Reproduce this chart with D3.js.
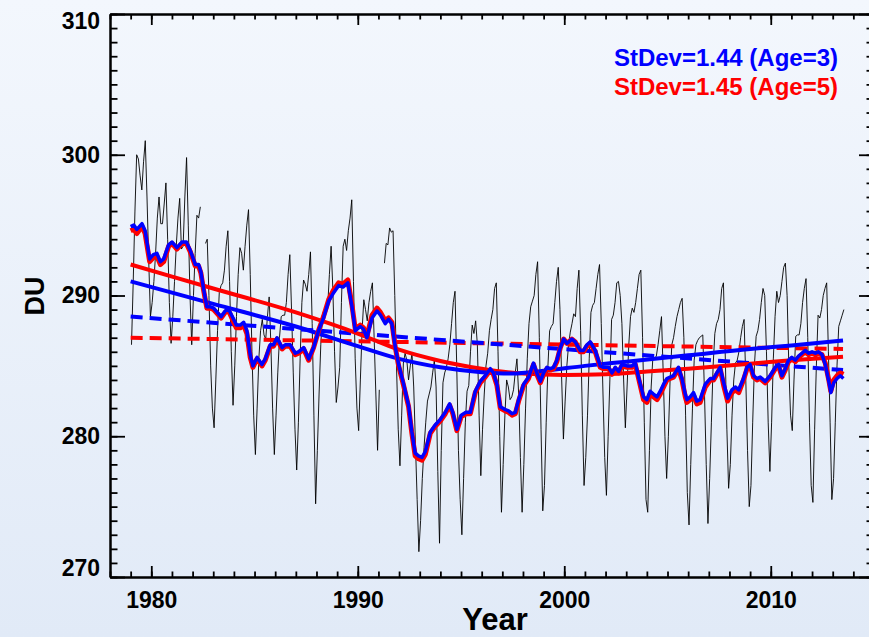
<!DOCTYPE html>
<html>
<head>
<meta charset="utf-8">
<script src="https://d3js.org/d3.v7.min.js"></script>
<style>
  body { margin: 0; background: #eef3fb; }
  svg { display: block; font-family: "Liberation Sans", Arial, Helvetica, sans-serif; font-weight: bold; }
</style>
</head>
<body>
<svg id="chart" width="869" height="637"></svg>
<script>
// monthly total ozone (DU), Jan 1979 .. Jul 2013, null = missing month
var firstYear = 1979;
var monthlyDU = [
  286.5, 291.0, 296.0, 300.0, 299.7, 298.5, 297.5, 299.5, 301.0, 297.0, 292.5, 288.5,
  289.5, 291.0, 293.0, 295.5, 297.0, 295.1, 295.1, 296.5, 298.0, 294.0, 289.5, 286.6,
  288.5, 291.0, 293.5, 295.5, 296.9, 293.3, 293.5, 297.0, 299.8, 295.0, 290.0, 286.5,
  290.0, 293.0, 295.7, 295.5, 296.3, null, null, 293.7, 294.0, 290.0, 285.0, 282.0,
  280.6, 284.0, 287.5, 290.2, 290.7, 290.9, 291.8, 293.5, 294.6, 291.0, 286.0, 282.2,
  285.0, 288.5, 291.5, 293.4, 293.0, 291.8, 293.5, 295.0, 296.1, 291.5, 286.0, 281.5,
  278.7, 282.0, 285.5, 287.5, 288.3, 287.2, 286.9, 288.5, 289.9, 286.5, 282.0, 278.7,
  281.5, 284.5, 287.0, 288.5, 288.6, 288.6, 289.5, 291.5, 292.9, 289.0, 284.5, 280.5,
  277.6, 281.0, 285.5, 289.5, 291.1, 290.8, 290.3, 291.5, 293.1, 288.0, 281.5, 275.2,
  279.0, 283.0, 286.5, 288.7, 289.0, 289.1, 289.2, 291.5, 293.5, 290.5, 286.0, 282.4,
  283.5, 284.9, 289.5, 293.5, 294.0, 293.2, 294.6, 295.5, 296.8, 291.0, 285.5, 282.0,
  280.4, 284.0, 287.5, 289.7, 289.0, 288.2, 289.5, 290.3, 290.9, 287.0, 283.0, 279.0,
  283.3, null, null, 292.3, 293.7, 293.6, 294.8, 294.5, 294.6, 290.0, 285.0, 280.5,
  277.9, 281.5, 285.2, 285.9, 285.4, 284.0, 285.0, 285.9, 283.5, 279.5, 275.5, 271.8,
  274.0, 277.0, 279.2, 281.0, 282.5, 283.0, 283.5, 284.5, 285.4, 283.5, 277.5, 272.4,
  279.0, 283.8, 284.5, 284.9, 285.5, 286.5, 288.0, 289.5, 290.3, 285.0, 279.0, 275.5,
  273.0, 277.0, 281.0, 283.2, 283.6, 286.0, 287.9, 287.3, 288.2, 286.5, 281.5, 277.2,
  280.5, 283.0, 285.0, 285.9, 287.5, 288.3, 289.0, 290.5, 290.9, 286.0, 280.0, 274.6,
  278.0, 281.5, 284.0, 283.5, 282.6, 282.8, 283.3, 284.5, 285.5, 283.0, 278.5, 274.6,
  278.0, 282.0, 285.5, 288.0, 289.2, 289.6, 290.0, 291.5, 292.4, 287.0, 280.5, 274.7,
  276.5, 281.0, 285.0, 287.5, 287.8, 288.0, 289.5, 291.0, 292.0, 289.0, 284.0, 279.8,
  282.5, 285.0, 286.5, 287.4, 288.0, 288.7, 288.5, 290.5, 291.8, 287.5, 281.5, 276.5,
  278.5, 281.5, 285.5, 288.8, 289.3, 289.5, 290.5, 291.5, 292.2, 288.0, 283.0, 278.5,
  275.8, 280.0, 284.0, 288.3, 288.6, 289.5, 290.9, 291.0, 290.0, 288.0, 284.0, 280.6,
  283.5, 286.5, 288.5, 289.1, 288.8, 289.5, 290.5, 291.5, 291.8, 287.0, 281.0, 275.5,
  274.6, 279.0, 283.5, 285.6, 285.5, 285.7, 286.5, 287.5, 288.5, 284.5, 280.0, 277.0,
  280.0, 284.0, 286.5, 287.0, 287.8, 288.5, 289.0, 289.5, 289.8, 287.0, 281.5, 276.0,
  273.7, 278.0, 282.0, 285.4, 286.5, 286.8, 287.0, 287.1, 287.2, 283.0, 278.0, 273.8,
  277.0, 281.0, 285.0, 287.3, 288.0, 288.3, 289.0, 290.5, 290.9, 286.0, 280.5, 276.3,
  278.0, 281.5, 284.0, 285.2, 285.4, 286.0, 287.0, 287.8, 288.3, 284.0, 279.0, 275.0,
  276.5, 281.0, 285.0, 287.1, 287.5, 288.3, 289.5, 290.5, 290.0, 286.0, 281.0, 277.5,
  281.0, 285.5, 288.5, 290.3, 289.5, 290.0, 291.0, 292.0, 292.3, 290.0, 285.0, 281.5,
  280.4, 284.0, 287.1, 287.2, 287.2, 288.0, 289.5, 290.5, 291.2, 287.0, 281.0, 276.5,
  275.3, 280.5, 285.0, 288.6, 288.4, 289.0, 290.0, 290.5, 290.9, 286.0, 281.0, 275.5,
  277.0, 281.0, 285.0, 287.8, 288.2, 288.6, 289.0
];

// smoothed series
var smoothYears = [
  1979.0, 1979.15, 1979.3, 1979.55, 1979.7, 1979.92, 1980.1, 1980.27, 1980.44, 1980.6, 1980.84, 1981.0,
  1981.24, 1981.49, 1981.7, 1981.89, 1982.13, 1982.29, 1982.4, 1982.53, 1982.69, 1982.86, 1983.02, 1983.26,
  1983.38, 1983.58, 1983.75, 1983.96, 1984.12, 1984.31, 1984.47, 1984.63, 1984.79, 1984.92, 1985.12, 1985.36,
  1985.52, 1985.76, 1985.92, 1986.09, 1986.33, 1986.49, 1986.73, 1986.97, 1987.13, 1987.38, 1987.62, 1987.86,
  1988.1, 1988.34, 1988.59, 1988.83, 1989.07, 1989.28, 1989.52, 1989.72, 1989.88, 1990.12, 1990.28, 1990.44,
  1990.69, 1990.93, 1991.1, 1991.33, 1991.49, 1991.65, 1991.82, 1991.98, 1992.22, 1992.46, 1992.62, 1992.78,
  1992.94, 1993.11, 1993.27, 1993.51, 1993.75, 1994.0, 1994.24, 1994.45, 1994.6, 1994.8, 1995.01, 1995.24,
  1995.45, 1995.69, 1995.93, 1996.17, 1996.42, 1996.57, 1996.74, 1996.9, 1997.14, 1997.3, 1997.47, 1997.63,
  1997.79, 1998.03, 1998.27, 1998.51, 1998.67, 1998.84, 1999.0, 1999.16, 1999.32, 1999.48, 1999.64, 1999.81,
  1999.97, 2000.13, 2000.37, 2000.53, 2000.77, 2000.93, 2001.1, 2001.26, 2001.5, 2001.74, 2001.9, 2002.15,
  2002.31, 2002.47, 2002.63, 2002.79, 2003.04, 2003.28, 2003.44, 2003.6, 2003.84, 2004.0, 2004.16, 2004.32,
  2004.49, 2004.65, 2004.81, 2004.97, 2005.13, 2005.29, 2005.53, 2005.7, 2005.86, 2005.94, 2006.1, 2006.26,
  2006.42, 2006.58, 2006.83, 2007.07, 2007.23, 2007.39, 2007.55, 2007.72, 2007.91, 2008.12, 2008.28, 2008.45,
  2008.68, 2008.85, 2009.0, 2009.17, 2009.33, 2009.49, 2009.73, 2009.97, 2010.22, 2010.38, 2010.54, 2010.7,
  2010.86, 2011.02, 2011.19, 2011.35, 2011.51, 2011.67, 2011.83, 2012.0, 2012.16, 2012.31, 2012.48, 2012.64,
  2012.81, 2012.91, 2013.05, 2013.21, 2013.37, 2013.52
];
var smoothAge3 = [
  294.9, 295.0, 294.7, 295.1, 294.6, 292.6, 292.9, 293.0, 292.4, 292.6, 293.6, 293.8,
  293.4, 293.8, 293.8, 293.2, 292.2, 292.2, 291.7, 290.5, 289.2, 289.2, 289.1, 288.7,
  288.5, 288.9, 289.0, 288.4, 287.9, 287.9, 288.1, 287.5, 285.8, 285.0, 285.6, 285.1,
  285.5, 286.5, 286.5, 287.0, 286.3, 286.5, 286.5, 285.9, 286.0, 286.3, 285.5, 286.3,
  287.5, 288.4, 289.6, 290.2, 290.7, 290.6, 290.9, 289.2, 287.5, 287.8, 287.6, 287.0,
  288.4, 288.9, 288.6, 288.0, 288.3, 288.0, 286.3, 285.1, 283.7, 282.2, 280.3, 278.8,
  278.6, 278.5, 278.9, 280.3, 280.8, 281.2, 281.7, 282.3, 281.7, 280.5, 281.5, 281.7,
  281.7, 283.2, 283.9, 284.3, 284.8, 284.5, 283.7, 282.1, 281.9, 281.8, 281.6, 281.7,
  282.6, 283.7, 284.2, 285.2, 284.5, 283.9, 284.5, 284.9, 284.8, 284.9, 285.4, 286.3,
  286.9, 286.6, 286.9, 286.7, 286.1, 286.1, 286.5, 286.7, 286.1, 285.0, 284.9, 284.9,
  284.5, 284.9, 284.6, 285.1, 285.0, 285.0, 285.2, 284.2, 282.8, 282.6, 283.2, 283.0,
  282.8, 283.2, 283.7, 284.1, 284.2, 284.3, 284.9, 284.1, 283.0, 282.6, 282.8, 283.1,
  282.5, 282.6, 283.7, 284.1, 284.1, 284.5, 284.9, 283.8, 282.7, 283.3, 283.5, 283.3,
  284.1, 284.9, 285.1, 284.3, 284.1, 284.2, 283.9, 284.3, 284.9, 285.1, 284.3, 284.8,
  285.4, 285.6, 285.4, 285.7, 285.9, 286.1, 285.9, 286.0, 285.9, 286.0, 285.8, 285.1,
  283.9, 283.1, 283.8, 284.1, 284.3, 284.1
];
var smoothAge5 = [
  294.6, 294.7, 294.4, 294.9, 294.4, 292.4, 292.7, 292.8, 292.2, 292.4, 293.5, 293.7,
  293.3, 293.7, 293.7, 293.1, 292.1, 292.1, 291.6, 290.4, 289.1, 289.1, 289.0, 288.6,
  288.4, 288.8, 288.9, 288.2, 287.7, 287.7, 287.9, 287.3, 285.6, 284.9, 285.5, 285.0,
  285.4, 286.4, 286.4, 286.9, 286.2, 286.4, 286.4, 285.8, 285.9, 286.2, 285.4, 286.3,
  287.5, 288.5, 289.7, 290.4, 290.9, 290.8, 291.1, 289.3, 287.6, 287.9, 287.7, 287.1,
  288.6, 289.1, 288.8, 288.2, 288.4, 288.1, 286.3, 285.0, 283.6, 282.1, 280.2, 278.6,
  278.4, 278.3, 278.7, 280.2, 280.7, 281.1, 281.6, 282.2, 281.6, 280.4, 281.4, 281.6,
  281.6, 283.1, 283.8, 284.2, 284.7, 284.4, 283.6, 282.0, 281.8, 281.7, 281.5, 281.6,
  282.5, 283.6, 284.1, 285.1, 284.4, 283.8, 284.4, 284.8, 284.7, 284.8, 285.3, 286.3,
  286.9, 286.6, 286.9, 286.7, 286.0, 286.0, 286.4, 286.6, 286.0, 284.9, 284.8, 284.8,
  284.4, 284.8, 284.5, 285.0, 284.9, 284.9, 285.1, 284.1, 282.6, 282.4, 283.0, 282.8,
  282.6, 283.0, 283.5, 284.0, 284.1, 284.2, 284.8, 284.0, 282.8, 282.4, 282.6, 282.9,
  282.3, 282.4, 283.5, 284.0, 284.0, 284.4, 284.8, 283.6, 282.5, 283.1, 283.3, 283.1,
  284.0, 284.8, 285.0, 284.2, 284.0, 284.1, 283.8, 284.2, 284.8, 285.0, 284.2, 284.7,
  285.3, 285.5, 285.3, 285.6, 285.8, 286.0, 285.8, 285.9, 285.8, 285.9, 285.8, 285.2,
  284.0, 283.2, 284.0, 284.3, 284.5, 284.4
];

// fitted trends
var trendYears = [1979, 1983, 1987, 1990, 1992, 1994, 1996, 1997.5, 1999, 2001, 2003, 2006, 2009, 2011, 2013.5];
var trendAge3 = [291.0, 289.4, 287.8, 286.4, 285.5, 284.9, 284.55, 284.45, 284.65, 285.0, 285.3, 285.75, 286.2, 286.45, 286.8];
var trendYears5 = [1979, 1983, 1987, 1990, 1992, 1994, 1996, 1998, 2000, 2002, 2004, 2006, 2009, 2011, 2013.5];
var trendAge5 = [292.2, 290.5, 288.8, 287.3, 286.15, 285.35, 284.8, 284.45, 284.35, 284.4, 284.6, 284.8, 285.15, 285.4, 285.65];

// linear fits (dashed)
var linYears = [1979, 2013.5];
var linAge3 = [288.5, 284.7];
var linAge5 = [287.0, 286.2];

var legendLabels = ["StDev=1.44 (Age=3)", "StDev=1.45 (Age=5)"];
var xTicks = [1980, 1990, 2000, 2010];
var yTicks = [270, 280, 290, 300, 310];

var W = 869, H = 637;
var plotL = 110, plotR = 874, plotT = 14, plotB = 577;
var svg = d3.select("#chart");

var defs = svg.append("defs");
var grad = defs.append("linearGradient").attr("id", "bg")
    .attr("x1", 0).attr("y1", 0).attr("x2", 0).attr("y2", 1);
grad.append("stop").attr("offset", "0%").attr("stop-color", "#f3f7fd");
grad.append("stop").attr("offset", "100%").attr("stop-color", "#e1eaf7");
svg.append("rect").attr("width", W).attr("height", H).attr("fill", "url(#bg)");

var x = d3.scaleLinear().domain([1978, 2015]).range([plotL, plotR]);
var y = d3.scaleLinear().domain([270, 310]).range([plotB, plotT]);

var minorYears = d3.range(1978, 2016);
var minorDU = d3.range(270, 311);

// data series
var monthly = monthlyDU.map(function(v, i) {
  return { t: firstYear + i / 12 + 1 / 24, v: v };
});
var line = d3.line()
  .defined(function(d) { return d.v !== null; })
  .x(function(d) { return x(d.t); })
  .y(function(d) { return y(d.v); });

function pairs(ts, vs) {
  return ts.map(function(t, i) { return { t: t, v: vs[i] }; });
}

var plot = svg.append("g");

plot.append("path").datum(monthly).attr("d", line)
  .attr("fill", "none").attr("stroke", "#000").attr("stroke-width", 0.9);

plot.append("path").datum(pairs(linYears, linAge5)).attr("d", line)
  .attr("fill", "none").attr("stroke", "#ff0000").attr("stroke-width", 4)
  .attr("stroke-dasharray", "12,7");
plot.append("path").datum(pairs(linYears, linAge3)).attr("d", line)
  .attr("fill", "none").attr("stroke", "#0000ff").attr("stroke-width", 4)
  .attr("stroke-dasharray", "12,7");

var curve = d3.line().curve(d3.curveMonotoneX)
  .x(function(d) { return x(d.t); })
  .y(function(d) { return y(d.v); });
plot.append("path").datum(pairs(trendYears5, trendAge5)).attr("d", curve)
  .attr("fill", "none").attr("stroke", "#ff0000").attr("stroke-width", 4);
plot.append("path").datum(pairs(trendYears, trendAge3)).attr("d", curve)
  .attr("fill", "none").attr("stroke", "#0000ff").attr("stroke-width", 4);

plot.append("path").datum(pairs(smoothYears, smoothAge5)).attr("d", line)
  .attr("fill", "none").attr("stroke", "#ff0000").attr("stroke-width", 5)
  .attr("stroke-linejoin", "round");
plot.append("path").datum(pairs(smoothYears, smoothAge3)).attr("d", line)
  .attr("fill", "none").attr("stroke", "#0000ff").attr("stroke-width", 3.5)
  .attr("stroke-linejoin", "round");

// axes (ticks point inward)
function styleAxis(g) {
  g.selectAll("path").attr("stroke", "#000").attr("stroke-width", 2);
  g.selectAll("line").attr("stroke", "#000").attr("stroke-width", 1.8);
  g.selectAll("text").attr("fill", "#000").style("font-size", "23px")
    .style("font-weight", "bold").style("font-family", '"Liberation Sans", Arial, sans-serif');
}

svg.append("g").attr("transform", "translate(0," + plotB + ")")
  .call(d3.axisBottom(x).tickValues(minorYears).tickSize(-5.5).tickSizeOuter(0).tickFormat(""))
  .call(styleAxis);
svg.append("g").attr("transform", "translate(0," + plotB + ")")
  .call(d3.axisBottom(x).tickValues(xTicks).tickSize(-11).tickSizeOuter(0).tickPadding(15).tickFormat(d3.format("d")))
  .call(styleAxis);
svg.append("g").attr("transform", "translate(0," + plotT + ")")
  .call(d3.axisTop(x).tickValues(minorYears).tickSize(-5.5).tickSizeOuter(0).tickFormat(""))
  .call(styleAxis);
svg.append("g").attr("transform", "translate(0," + plotT + ")")
  .call(d3.axisTop(x).tickValues(xTicks).tickSize(-11).tickSizeOuter(0).tickFormat(""))
  .call(styleAxis);

svg.append("g").attr("transform", "translate(" + plotL + ",0)")
  .call(d3.axisLeft(y).tickValues(minorDU).tickSize(-7.5).tickSizeOuter(0).tickFormat(""))
  .call(styleAxis);
var yAxis = svg.append("g").attr("transform", "translate(" + plotL + ",0)")
  .call(d3.axisLeft(y).tickValues(yTicks).tickSize(-15).tickSizeOuter(0).tickPadding(10).tickFormat(d3.format("d")))
  .call(styleAxis);
// keep end labels inside the frame
function labelY(d) { return Math.max(plotT + 7, Math.min(plotB - 9, y(d))); }
yAxis.selectAll(".tick text").attr("y", function(d) { return labelY(d) - y(d); });

svg.append("g").attr("transform", "translate(" + plotR + ",0)")
  .call(d3.axisRight(y).tickValues(minorDU).tickSize(-7.5).tickSizeOuter(0).tickFormat(""))
  .call(styleAxis);
svg.append("g").attr("transform", "translate(" + plotR + ",0)")
  .call(d3.axisRight(y).tickValues(yTicks).tickSize(-15).tickSizeOuter(0).tickFormat(""))
  .call(styleAxis);

// titles
svg.append("text").attr("x", 495).attr("y", 630).attr("text-anchor", "middle")
  .style("font-size", "31px").text("Year");
svg.append("text").attr("transform", "translate(44,296) rotate(-90)")
  .attr("text-anchor", "middle").style("font-size", "27px").text("DU");

// legend
var legendColors = ["#0000ff", "#ff0000"];
svg.selectAll(".legend").data(legendLabels).enter().append("text")
  .attr("class", "legend")
  .attr("x", 838).attr("y", function(d, i) { return 66 + i * 29; })
  .attr("text-anchor", "end")
  .attr("fill", function(d, i) { return legendColors[i]; })
  .style("font-size", "24px")
  .text(function(d) { return d; });
</script>
</body>
</html>
